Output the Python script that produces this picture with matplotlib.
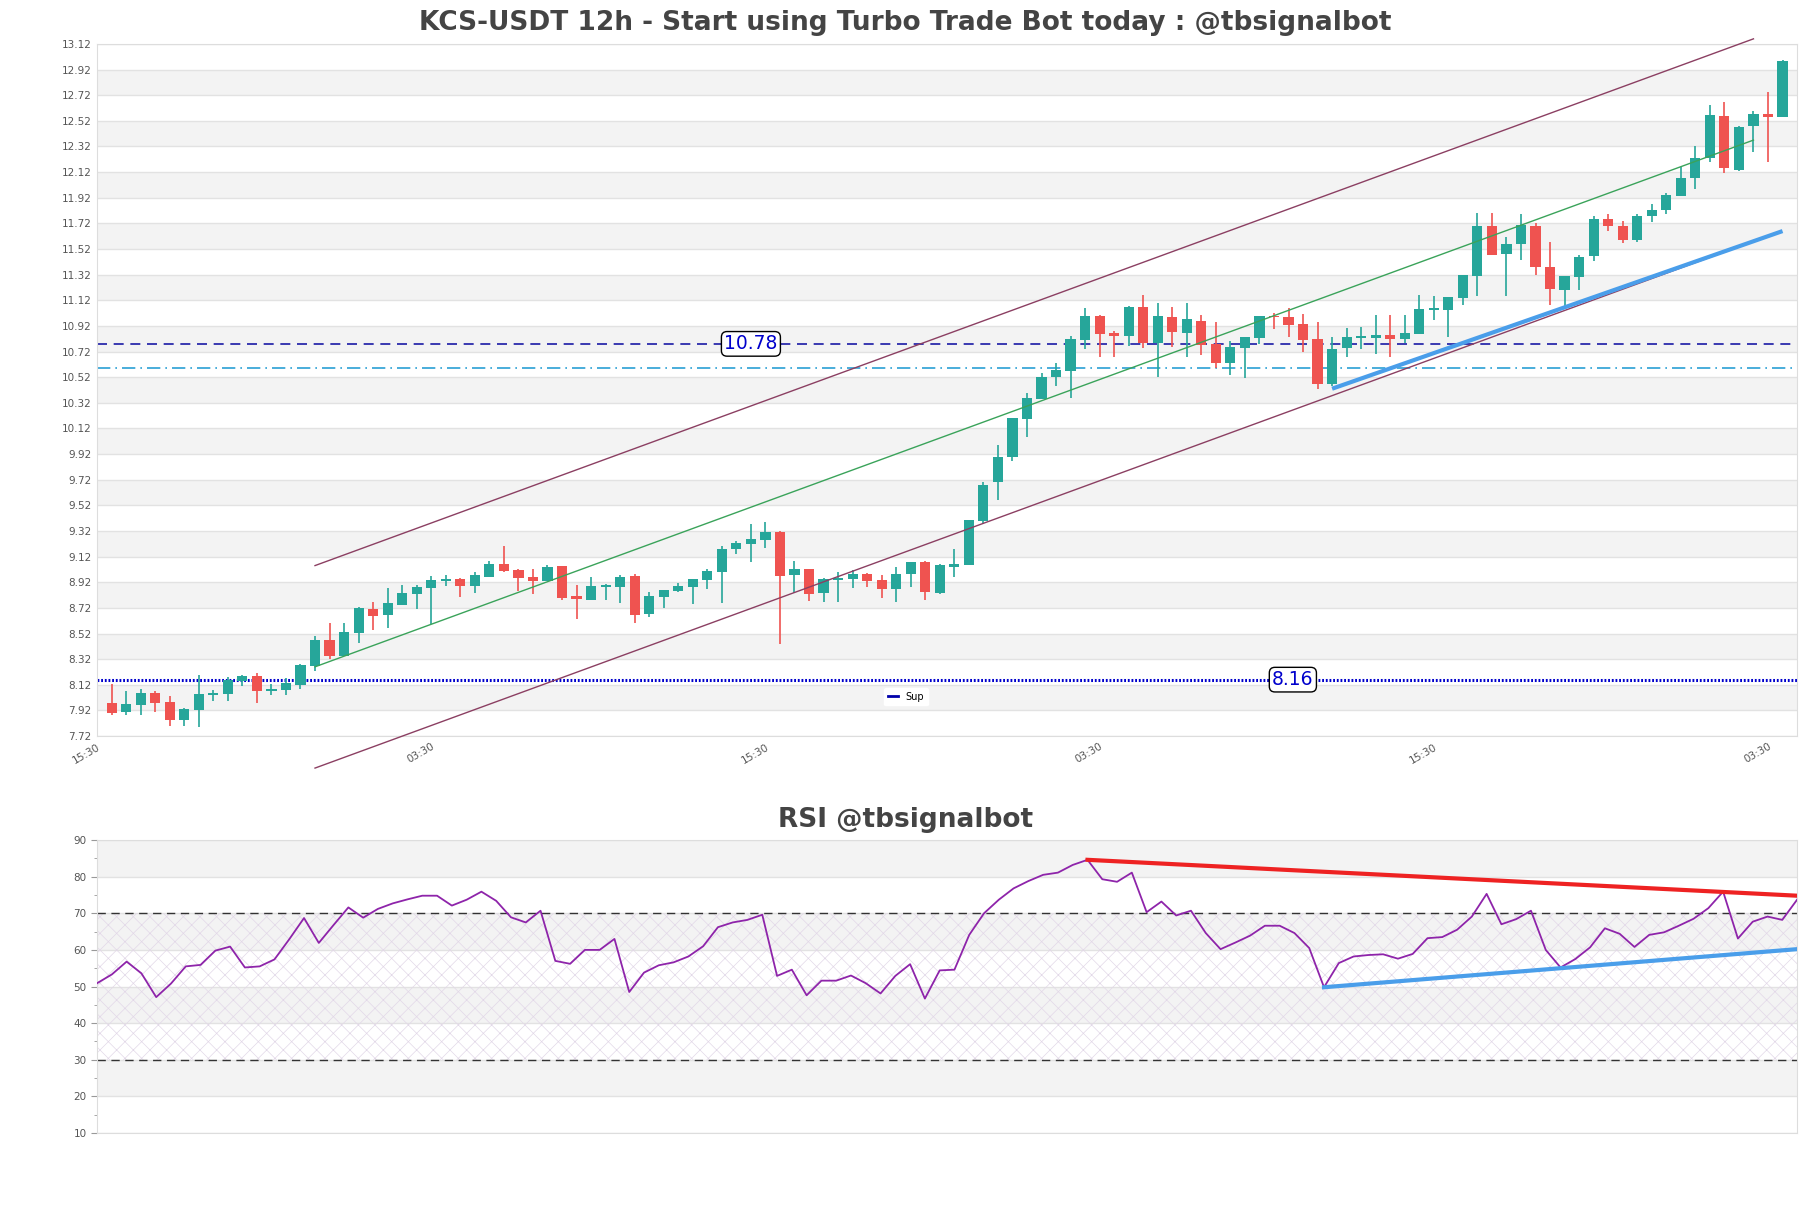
import matplotlib
matplotlib.use("Agg")
import matplotlib.pyplot as plt
from matplotlib.lines import Line2D
import numpy as np

# ---------------- data ----------------
opens = [7.977, 7.910, 7.964, 8.055, 7.985, 7.847, 7.925, 8.043, 8.050, 8.152,
         8.188, 8.074, 8.082, 8.120, 8.269, 8.469, 8.347, 8.524, 8.711, 8.667,
         8.745, 8.831, 8.877, 8.932, 8.942, 8.891, 8.958, 9.060, 9.013, 8.963,
         8.927, 9.044, 8.810, 8.781, 8.883, 8.883, 8.966, 8.672, 8.805, 8.852,
         8.883, 8.937, 8.997, 9.177, 9.218, 9.250, 9.309, 8.974, 9.021, 8.834,
         8.940, 8.948, 8.984, 8.938, 8.870, 8.982, 9.078, 8.834, 9.042, 9.057,
         9.401, 9.700, 9.900, 10.196, 10.353, 10.519, 10.571, 10.813, 10.998, 10.865,
         10.844, 11.068, 10.784, 10.986, 10.862, 10.960, 10.778, 10.630, 10.747, 10.825,
         10.999, 10.986, 10.932, 10.815, 10.466, 10.747, 10.822, 10.828, 10.846, 10.817,
         10.856, 11.044, 11.044, 11.137, 11.306, 11.696, 11.480, 11.557, 11.703, 11.380,
         11.201, 11.299, 11.463, 11.755, 11.703, 11.588, 11.776, 11.822, 11.931, 12.072,
         12.228, 12.561, 12.140, 12.478, 12.577, 12.548]
highs = [8.126, 8.071, 8.087, 8.068, 8.032, 7.938, 8.196, 8.079, 8.178, 8.196,
         8.209, 8.123, 8.170, 8.282, 8.500, 8.599, 8.602, 8.729, 8.768, 8.875,
         8.901, 8.896, 8.966, 8.978, 8.955, 8.997, 9.083, 9.200, 9.026, 9.026,
         9.052, 9.044, 8.896, 8.958, 8.904, 8.974, 8.982, 8.841, 8.859, 8.917,
         8.943, 9.021, 9.200, 9.239, 9.372, 9.387, 9.322, 9.083, 9.026, 8.951,
         8.998, 9.016, 8.992, 8.977, 9.037, 9.078, 9.086, 9.063, 9.177, 9.406,
         9.705, 9.991, 10.202, 10.394, 10.553, 10.628, 10.844, 11.060, 11.005, 10.878,
         11.076, 11.161, 11.102, 11.064, 11.101, 11.002, 10.947, 10.799, 10.830, 10.994,
         11.018, 11.062, 11.010, 10.952, 10.830, 10.900, 10.913, 11.005, 11.005, 11.005,
         11.160, 11.153, 11.142, 11.317, 11.798, 11.798, 11.616, 11.791, 11.723, 11.578,
         11.310, 11.476, 11.781, 11.796, 11.739, 11.791, 11.869, 11.960, 12.158, 12.327,
         12.647, 12.670, 12.483, 12.600, 12.743, 12.998]
lows = [7.886, 7.886, 7.886, 7.910, 7.801, 7.801, 7.793, 7.996, 7.996, 8.113,
        7.975, 8.042, 8.042, 8.089, 8.230, 8.318, 8.342, 8.446, 8.547, 8.565,
        8.745, 8.711, 8.591, 8.893, 8.807, 8.836, 8.958, 8.997, 8.849, 8.828,
        8.927, 8.781, 8.633, 8.781, 8.781, 8.755, 8.602, 8.651, 8.719, 8.845,
        8.750, 8.865, 8.755, 9.140, 9.078, 9.187, 8.435, 8.836, 8.774, 8.763,
        8.763, 8.875, 8.886, 8.797, 8.763, 8.886, 8.784, 8.828, 8.964, 9.057,
        9.372, 9.564, 9.869, 10.056, 10.353, 10.454, 10.358, 10.740, 10.680, 10.680,
        10.766, 10.750, 10.519, 10.752, 10.677, 10.692, 10.588, 10.539, 10.513, 10.778,
        10.898, 10.833, 10.716, 10.425, 10.450, 10.677, 10.737, 10.700, 10.677, 10.783,
        10.856, 10.968, 10.833, 11.083, 11.153, 11.473, 11.153, 11.432, 11.315, 11.086,
        11.070, 11.201, 11.427, 11.664, 11.565, 11.575, 11.734, 11.794, 11.931, 11.986,
        12.199, 12.111, 12.132, 12.275, 12.197, 12.548]
closes = [7.902, 7.970, 8.055, 7.980, 7.847, 7.931, 8.048, 8.055, 8.157, 8.188,
          8.071, 8.087, 8.134, 8.274, 8.469, 8.342, 8.531, 8.721, 8.656, 8.758,
          8.836, 8.883, 8.935, 8.942, 8.893, 8.974, 9.060, 9.005, 8.953, 8.927,
          9.036, 8.794, 8.789, 8.888, 8.893, 8.963, 8.664, 8.810, 8.859, 8.888,
          8.943, 9.008, 9.177, 9.224, 9.255, 9.309, 8.969, 9.021, 8.828, 8.945,
          8.953, 8.984, 8.932, 8.870, 8.984, 9.078, 8.841, 9.055, 9.063, 9.406,
          9.679, 9.897, 10.202, 10.358, 10.522, 10.576, 10.818, 10.998, 10.857, 10.844,
          11.068, 10.784, 10.998, 10.872, 10.971, 10.770, 10.630, 10.752, 10.830, 10.994,
          10.989, 10.926, 10.809, 10.466, 10.742, 10.830, 10.838, 10.846, 10.817, 10.867,
          11.049, 11.054, 11.142, 11.317, 11.696, 11.473, 11.556, 11.705, 11.378, 11.208,
          11.310, 11.461, 11.757, 11.697, 11.588, 11.781, 11.827, 11.939, 12.072, 12.233,
          12.569, 12.150, 12.475, 12.577, 12.548, 12.990]

rsi = [50.9, 53.3, 56.8, 53.6, 47.1, 50.8, 55.5, 55.9, 59.8, 60.9,
       55.2, 55.5, 57.4, 62.9, 68.7, 61.9, 66.8, 71.6, 68.8, 71.2,
       72.7, 73.8, 74.8, 74.8, 72.1, 73.7, 75.9, 73.4, 68.9, 67.5,
       70.7, 57.0, 56.2, 60.0, 60.0, 63.0, 48.5, 53.8, 55.8, 56.6,
       58.2, 61.0, 66.2, 67.5, 68.2, 69.6, 52.9, 54.6, 47.6, 51.6,
       51.6, 53.0, 50.9, 48.1, 52.9, 56.1, 46.7, 54.4, 54.6, 64.1,
       70.0, 73.7, 76.8, 78.8, 80.5, 81.1, 83.2, 84.6, 79.3, 78.6,
       81.1, 70.3, 73.2, 69.4, 70.7, 64.6, 60.2, 62.0, 63.9, 66.6,
       66.6, 64.6, 60.5, 49.8, 56.4, 58.2, 58.6, 58.8, 57.6, 58.9,
       63.2, 63.5, 65.5, 69.1, 75.3, 67.0, 68.4, 70.7, 60.0, 55.2,
       57.5, 60.7, 65.9, 64.4, 60.8, 64.1, 64.8, 66.6, 68.5, 71.4,
       75.9, 63.1, 67.7, 69.1, 68.2, 73.7]

xtick_pos = [-1, 22, 45, 68, 91, 114]
xtick_labels = ["15:30", "03:30", "15:30", "03:30", "15:30", "03:30"]
price_ticks = [round(7.72 + 0.2 * k, 2) for k in range(28)]

resistance_level = 10.78
mid_level = 10.59
support_level = 8.16
resistance_label_x = 44
support_label_x = 81.3

channel_x = [14, 113]
channel_mid = [8.26, 12.37]
channel_offset = 0.79

trend_x = [84, 115]
trend_y = [10.43, 11.66]

rsi_res_x = [67, 115]
rsi_res_y = [84.6, 74.8]
rsi_sup_x = [83, 115]
rsi_sup_y = [49.8, 60.2]

# ---------------- figure ----------------
plt.rcParams['font.family'] = ['DejaVu Sans']
plt.rcParams['hatch.linewidth'] = 0.5
fig = plt.figure(figsize=(18.11, 12.08), dpi=100)
ax = fig.add_axes([0.0536, 0.3907, 0.9387, 0.5729])
ax2 = fig.add_axes([0.0536, 0.0621, 0.9387, 0.2425])

GREEN = '#26a69a'
RED = '#ef5350'
n = len(opens)
x = np.arange(n)

# bands
for k in range(len(price_ticks) - 1):
    lo = price_ticks[k]
    if k % 2 == 1:
        ax.axhspan(lo, price_ticks[k + 1], color='#f3f3f3', zorder=0, lw=0)
ax.set_ylim(7.72, 13.12)
ax.set_xlim(-1, 116)
ax.set_yticks(price_ticks)
ax.set_yticklabels([f"{t:.2f}" for t in price_ticks])
ax.yaxis.grid(True, color='#e2e2e2', lw=1, zorder=0.5)
ax.set_axisbelow(True)
ax.set_xticks(xtick_pos)
ax.set_xticklabels(xtick_labels, rotation=30, ha='right', rotation_mode='anchor')
ax.tick_params(axis='both', length=0, labelsize=7.5, labelcolor='#555555', pad=4)
for s in ax.spines.values():
    s.set_color('#dddddd')

# candles
w = 0.7
for i in range(n):
    o, h, l, c = opens[i], highs[i], lows[i], closes[i]
    col = GREEN if c >= o else RED
    ax.vlines(x[i], l, h, color=col, lw=1.2, zorder=3)
    bottom = min(o, c)
    height = max(abs(c - o), 0.012)
    ax.bar(x[i], height, w, bottom=bottom, color=col, zorder=4, lw=0)

# levels
ax.axhline(resistance_level, color='#1a1aa6', lw=1.2, ls=(0, (6, 4)), zorder=2)
ax.axhline(mid_level, color='#2aa0d4', lw=1.2, ls=(0, (8, 3, 1, 3)), zorder=2)
ax.axhline(support_level, color='#0000cc', lw=2.2, ls=(0, (0.6, 0.6)), zorder=2)
bbox = dict(boxstyle='round,pad=0.15,rounding_size=0.3', fc='white', ec='black', lw=1)
ax.text(resistance_label_x, resistance_level, f"{resistance_level:.2f}", color='#0000cc',
        fontsize=13.5, ha='center', va='center', bbox=bbox, zorder=6)
ax.text(support_label_x, support_level, f"{support_level:.2f}", color='#0000cc',
        fontsize=13.5, ha='center', va='center', bbox=bbox, zorder=6)

# channel
cm = np.array(channel_mid)
ax.plot(channel_x, cm, color='#3aa35a', lw=1, zorder=5)
ax.plot(channel_x, cm + channel_offset, color='#8b3f62', lw=1, zorder=5, clip_on=False)
ax.plot(channel_x, cm - channel_offset, color='#8b3f62', lw=1, zorder=5, clip_on=False)
ax.plot(trend_x, trend_y, color='#4a9eea', lw=3, zorder=5, solid_capstyle='butt')

leg = ax.legend(handles=[Line2D([0], [0], color='#0000aa', lw=2)], labels=['Sup'],
                loc='center', bbox_to_anchor=(0.476, 0.057), fontsize=7,
                frameon=True, handlelength=1.0, handletextpad=0.8)
leg.get_frame().set_edgecolor('white')
leg.get_frame().set_facecolor('white')
leg.get_frame().set_alpha(1)

# ---------------- RSI ----------------
for lo, hi in [(80, 90), (60, 70), (40, 50), (20, 30)]:
    ax2.axhspan(lo, hi, color='#f3f3f3', zorder=0, lw=0)
ax2.fill_between([0, n - 1], 30, 70, facecolor='none', edgecolor='#e2d8e8',
                 hatch='xx', lw=0, zorder=0.6)
ax2.set_ylim(10, 90)
ax2.set_xlim(0, n - 1)
ax2.set_yticks(range(10, 91, 10))
ax2.set_yticks(range(15, 90, 10), minor=True)
ax2.yaxis.grid(True, color='#e2e2e2', lw=1, zorder=0.5)
ax2.set_axisbelow(True)
ax2.set_xticks([])
ax2.tick_params(axis='y', which='major', length=4, color='#999999', labelsize=7.5, labelcolor='#555555')
ax2.tick_params(axis='y', which='minor', length=2, color='#999999')
for s in ax2.spines.values():
    s.set_color('#dddddd')
ax2.axhline(70, color='#333333', lw=1.0, ls=(0, (6, 4)), zorder=2)
ax2.axhline(30, color='#333333', lw=1.0, ls=(0, (6, 4)), zorder=2)
ax2.plot(np.arange(len(rsi)), rsi, color='#8e24aa', lw=1.3, zorder=4)
ax2.plot(rsi_res_x, rsi_res_y, color='#ee2222', lw=3, zorder=5)
ax2.plot(rsi_sup_x, rsi_sup_y, color='#4a9eea', lw=3, zorder=5)

fig.text(0.5, 0.981, "KCS-USDT 12h - Start using Turbo Trade Bot today : @tbsignalbot",
         ha='center', va='center', fontsize=19, fontweight='bold', color='#444444')
fig.text(0.5, 0.3212, "RSI @tbsignalbot", ha='center', va='center', fontsize=19,
         fontweight='bold', color='#444444')

fig.savefig("out.png", dpi=100, facecolor='white')
